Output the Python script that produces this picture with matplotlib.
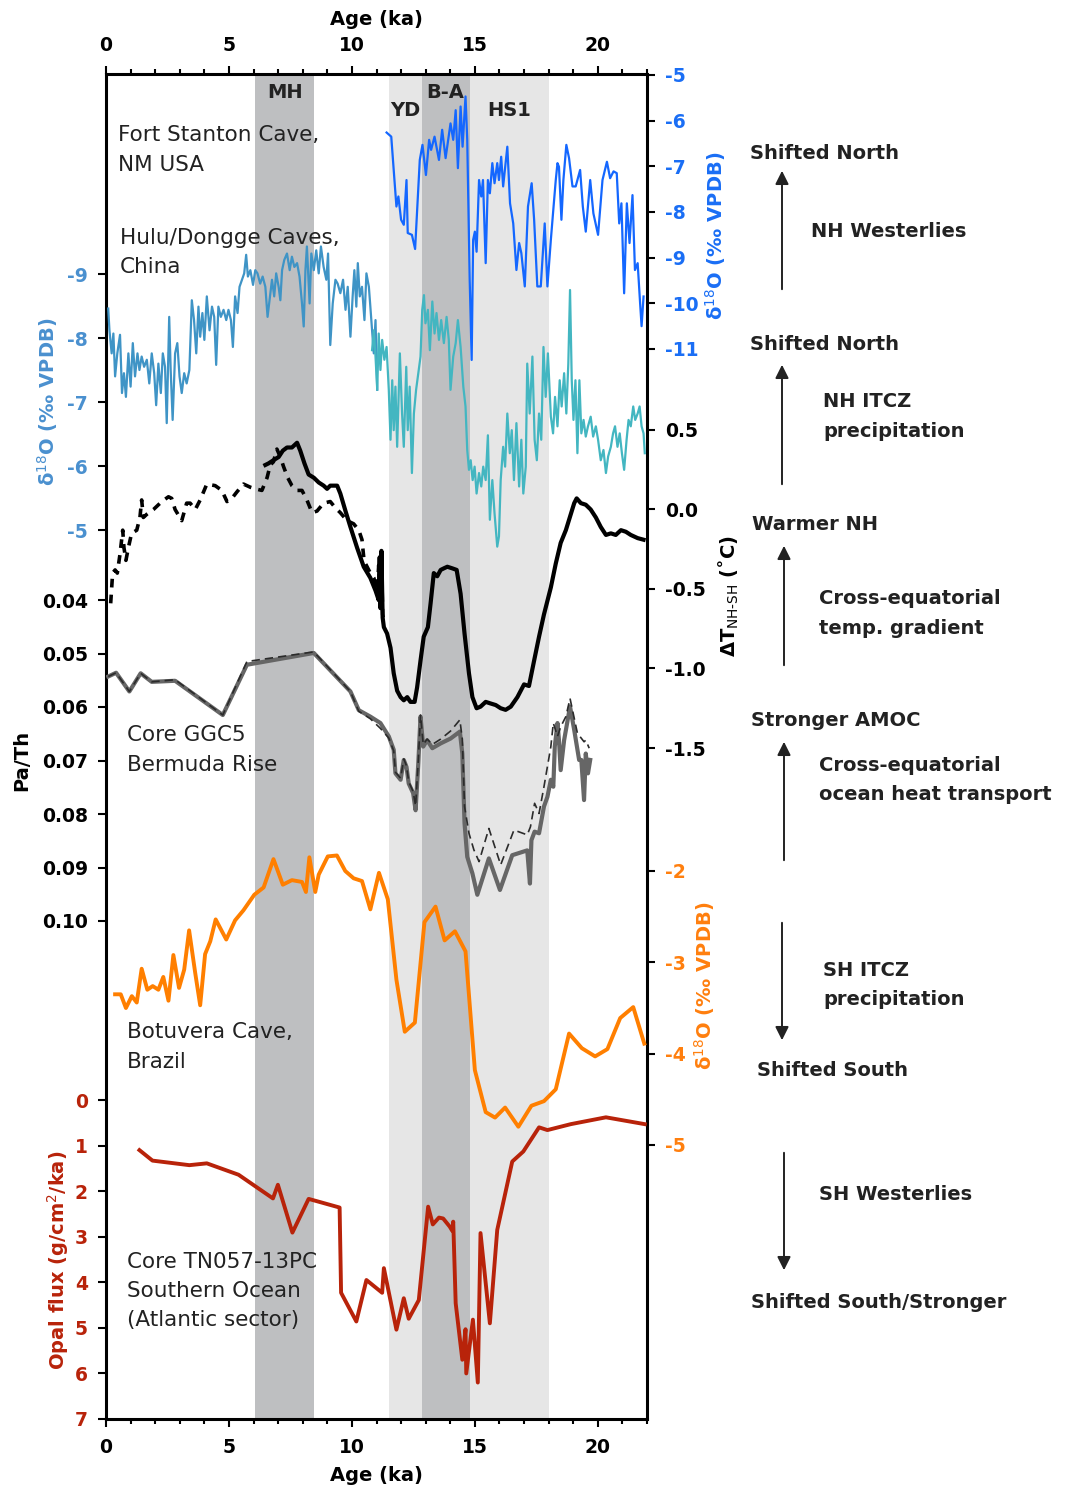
import matplotlib.pyplot as plt
from matplotlib.patches import FancyArrowPatch

# ---- data -------------------------------------------------------------
# Fort Stanton Cave (NM, USA) speleothem d18O
fort_age = [11.41, 11.6, 11.73, 11.81, 11.89, 12.0, 12.11, 12.22, 12.27, 12.44,
            12.57, 12.76, 12.87, 13.01, 13.14, 13.22, 13.36, 13.54, 13.67, 13.81,
            14.01, 14.12, 14.22, 14.31, 14.42, 14.50, 14.62, 14.69, 14.79, 14.87,
            14.93, 15.0, 15.07, 15.17, 15.26, 15.33, 15.44, 15.53, 15.61, 15.71,
            15.80, 15.91, 15.98, 16.07, 16.15, 16.32, 16.43, 16.56, 16.69, 16.80,
            16.89, 17.03, 17.16, 17.31, 17.41, 17.54, 17.68, 17.84, 17.95, 18.09,
            18.19, 18.29, 18.36, 18.42, 18.52, 18.60, 18.72, 18.83, 18.97, 19.10,
            19.28, 19.39, 19.51, 19.69, 19.82, 20.01, 20.19, 20.37, 20.50, 20.64,
            20.77, 20.87, 20.96, 21.07, 21.18, 21.29, 21.41, 21.51, 21.62, 21.72,
            21.78, 21.86]
fort_d18o = [-6.26, -6.35, -7.30, -7.88, -7.66, -8.17, -8.28, -7.30, -8.46, -8.50,
             -8.81, -6.86, -6.53, -7.19, -6.42, -6.64, -6.35, -6.86, -6.20, -6.82,
             -6.06, -6.42, -5.77, -7.04, -5.69, -6.57, -5.47, -6.42, -9.49, -11.24,
             -8.61, -8.43, -8.87, -7.30, -7.66, -7.30, -9.12, -7.30, -7.59, -6.93,
             -7.37, -6.93, -7.30, -6.79, -7.44, -6.57, -7.81, -8.25, -9.27, -8.68,
             -8.90, -9.63, -7.88, -7.37, -8.17, -9.63, -9.63, -8.25, -9.63, -8.61,
             -7.95, -7.30, -6.93, -7.01, -8.17, -7.30, -6.53, -6.82, -7.44, -7.44,
             -7.08, -7.88, -8.43, -7.30, -8.03, -8.50, -7.30, -6.90, -7.26, -7.11,
             -7.15, -8.25, -7.81, -9.78, -7.81, -8.68, -7.63, -9.27, -9.12, -10.0,
             -10.5, -9.85]

# Dongge Cave d18O (Holocene)
dongge_age = [0.09, 0.14, 0.23, 0.30, 0.37, 0.46, 0.57, 0.65, 0.73, 0.81,
              0.91, 1.0, 1.09, 1.18, 1.28, 1.36, 1.45, 1.55, 1.66, 1.76,
              1.86, 1.96, 2.04, 2.13, 2.23, 2.31, 2.40, 2.47, 2.57, 2.63,
              2.71, 2.81, 2.90, 2.99, 3.08, 3.18, 3.28, 3.39, 3.49, 3.58,
              3.67, 3.76, 3.83, 3.92, 4.00, 4.10, 4.21, 4.31, 4.40, 4.48,
              4.57, 4.67, 4.78, 4.89, 4.98, 5.08, 5.16, 5.25, 5.35, 5.43,
              5.53, 5.62, 5.70, 5.77, 5.87, 5.98, 6.07, 6.16, 6.27, 6.37,
              6.48, 6.57, 6.65, 6.75, 6.84, 6.92, 7.02, 7.09, 7.16, 7.25,
              7.36, 7.47, 7.56, 7.66, 7.77, 7.87, 7.97, 8.04, 8.11, 8.17,
              8.28, 8.35, 8.45, 8.55, 8.65, 8.74, 8.85, 8.96, 9.03, 9.12,
              9.22, 9.33, 9.42, 9.53, 9.64, 9.74, 9.83, 9.94, 10.03, 10.10,
              10.18, 10.24, 10.32, 10.41, 10.51, 10.59, 10.69, 10.75, 10.82, 10.89,
              10.96, 11.03]
dongge_d18o = [-8.46, -8.12, -7.76, -8.07, -7.40, -7.76, -8.05, -7.14, -7.45, -7.08,
               -7.76, -7.24, -7.92, -7.40, -7.76, -7.50, -7.71, -7.55, -7.66, -7.29,
               -7.76, -7.45, -6.95, -7.60, -7.14, -7.76, -7.55, -6.67, -8.33, -7.50,
               -6.72, -7.76, -7.92, -7.40, -7.14, -7.45, -7.29, -7.50, -8.59, -8.28,
               -7.76, -8.49, -8.02, -8.39, -7.97, -8.65, -8.12, -8.49, -8.33, -7.58,
               -8.49, -8.33, -8.44, -8.28, -8.44, -8.28, -7.86, -8.65, -8.39, -8.80,
               -8.91, -9.01, -9.30, -8.96, -9.06, -8.83, -9.06, -9.01, -8.85, -8.96,
               -8.80, -8.33, -8.59, -8.91, -8.65, -9.01, -8.80, -8.59, -9.06, -9.22,
               -9.32, -9.06, -9.27, -9.11, -9.17, -8.96, -8.54, -8.18, -9.06, -9.43,
               -8.54, -9.32, -9.06, -9.37, -9.01, -9.43, -9.11, -8.91, -9.32, -7.89,
               -8.54, -8.91, -8.85, -8.70, -8.91, -8.44, -8.80, -8.02, -8.65, -9.06,
               -8.49, -9.17, -8.65, -8.80, -8.28, -9.01, -8.80, -8.49, -8.12, -7.76,
               -8.28, -7.19]

# Hulu Cave d18O (deglacial)
hulu_age = [10.82, 10.89, 10.96, 11.03, 11.09, 11.16, 11.23, 11.32, 11.41, 11.50,
            11.57, 11.64, 11.70, 11.77, 11.84, 11.95, 12.04, 12.11, 12.21, 12.27,
            12.35, 12.44, 12.52, 12.61, 12.70, 12.79, 12.86, 12.93, 12.99, 13.09,
            13.17, 13.27, 13.36, 13.44, 13.54, 13.63, 13.74, 13.85, 13.94, 14.01,
            14.12, 14.22, 14.31, 14.42, 14.53, 14.62, 14.69, 14.76, 14.83, 14.91,
            14.99, 15.07, 15.17, 15.26, 15.34, 15.44, 15.53, 15.61, 15.71, 15.80,
            15.91, 15.98, 16.05, 16.15, 16.23, 16.32, 16.42, 16.50, 16.59, 16.69,
            16.80, 16.89, 16.97, 17.07, 17.13, 17.23, 17.34, 17.43, 17.52, 17.61,
            17.70, 17.79, 17.88, 17.97, 18.09, 18.18, 18.26, 18.36, 18.45, 18.53,
            18.63, 18.72, 18.80, 18.87, 18.94, 19.01, 19.09, 19.17, 19.25, 19.33,
            19.42, 19.51, 19.60, 19.71, 19.81, 19.92, 20.01, 20.12, 20.23, 20.33,
            20.42, 20.53, 20.62, 20.70, 20.80, 20.89, 20.98, 21.07, 21.17, 21.25,
            21.34, 21.44, 21.52, 21.62, 21.70, 21.78, 21.86, 21.91]
hulu_d18o = [-7.81, -8.12, -7.71, -7.19, -8.07, -7.50, -7.97, -7.66, -7.86, -7.19,
             -6.41, -7.34, -6.56, -7.24, -6.30, -7.76, -6.82, -6.30, -7.55, -6.56,
             -7.24, -5.89, -6.82, -7.19, -7.45, -7.71, -8.44, -8.67, -8.23, -8.44,
             -7.81, -8.57, -8.07, -8.39, -7.97, -8.28, -7.92, -8.33, -7.97, -7.19,
             -7.71, -7.92, -8.28, -7.86, -7.24, -6.93, -6.25, -5.94, -6.09, -5.78,
             -5.99, -5.57, -5.89, -5.68, -5.99, -5.78, -6.48, -5.16, -5.78, -5.26,
             -4.74, -4.90, -5.78, -6.30, -5.99, -6.82, -6.20, -6.56, -5.78, -6.67,
             -5.68, -6.41, -5.57, -5.99, -7.60, -6.82, -7.71, -6.41, -6.09, -6.82,
             -6.41, -7.86, -7.08, -7.76, -6.77, -6.51, -7.08, -6.62, -7.34, -6.93,
             -7.45, -6.82, -7.60, -8.75, -7.34, -6.72, -7.34, -6.20, -7.34, -6.51,
             -6.72, -6.46, -6.62, -6.77, -6.46, -6.62, -6.41, -6.09, -6.25, -5.89,
             -6.15, -6.30, -6.51, -6.62, -6.30, -6.51, -6.20, -5.94, -6.41, -6.72,
             -6.62, -6.93, -6.72, -6.82, -6.93, -6.62, -6.51, -6.20]

# interhemispheric temperature contrast (degC)
dt_age = [6.48, 6.61, 6.81, 7.02, 7.19, 7.36, 7.56, 7.77, 7.90, 8.07,
          8.24, 8.45, 8.65, 8.85, 8.99, 9.12, 9.40, 9.53, 9.74, 9.94,
          10.21, 10.48, 10.75, 10.96, 11.09, 11.13, 11.16, 11.20, 11.25, 11.30,
          11.43, 11.57, 11.70, 11.84, 11.98, 12.11, 12.25, 12.38, 12.55, 12.65,
          12.79, 12.92, 13.09, 13.20, 13.33, 13.47, 13.61, 13.74, 13.88, 14.08,
          14.26, 14.42, 14.58, 14.76, 14.90, 15.07, 15.23, 15.44, 15.64, 15.85,
          16.05, 16.25, 16.46, 16.73, 17.0, 17.20, 17.41, 17.61, 17.81, 18.09,
          18.29, 18.49, 18.70, 18.90, 19.04, 19.14, 19.31, 19.51, 19.71, 19.92,
          20.12, 20.33, 20.53, 20.73, 20.94, 21.14, 21.34, 21.62, 21.86]
dt_val = [0.28, 0.29, 0.31, 0.33, 0.37, 0.39, 0.39, 0.42, 0.37, 0.29,
          0.22, 0.20, 0.17, 0.15, 0.13, 0.15, 0.15, 0.10, -0.01, -0.11,
          -0.24, -0.36, -0.43, -0.51, -0.57, -0.30, -0.62, -0.26, -0.68, -0.74,
          -0.78, -0.87, -1.03, -1.14, -1.18, -1.20, -1.18, -1.21, -1.21, -1.12,
          -0.95, -0.80, -0.74, -0.59, -0.40, -0.42, -0.38, -0.37, -0.36, -0.37,
          -0.38, -0.53, -0.78, -1.03, -1.18, -1.25, -1.24, -1.21, -1.22, -1.23,
          -1.25, -1.26, -1.24, -1.18, -1.10, -1.11, -0.95, -0.80, -0.66, -0.49,
          -0.34, -0.21, -0.13, -0.03, 0.04, 0.07, 0.04, 0.03, 0.00, -0.05,
          -0.11, -0.16, -0.15, -0.16, -0.13, -0.14, -0.16, -0.18, -0.19]
dt_holo_age = [0.19, 0.27, 0.37, 0.46, 0.57, 0.68, 0.73, 0.81, 0.91, 1.04,
               1.25, 1.38, 1.45, 1.52, 1.66, 1.93, 2.27, 2.54, 2.67, 2.81,
               3.08, 3.28, 3.42, 3.63, 3.83, 4.10, 4.44, 4.71, 4.92, 5.12,
               5.32, 5.59, 5.87, 6.07, 6.34, 6.55, 6.68, 6.81, 6.95, 7.09,
               7.22, 7.39, 7.56, 7.77, 7.97, 8.17, 8.38, 8.58, 8.85, 9.12,
               9.33, 9.53, 9.80, 10.07, 10.28, 10.41, 10.48, 10.55, 10.75, 10.89,
               11.03, 11.09, 11.16, 11.20, 11.25, 11.30]
dt_holo_val = [-0.59, -0.40, -0.38, -0.40, -0.28, -0.13, -0.24, -0.32, -0.24, -0.15,
               -0.13, -0.05, 0.06, -0.05, -0.03, 0.00, 0.05, 0.08, 0.07, 0.00,
               -0.07, 0.04, 0.04, 0.00, 0.06, 0.16, 0.15, 0.12, 0.05, 0.07,
               0.11, 0.16, 0.14, 0.13, 0.12, 0.20, 0.28, 0.30, 0.38, 0.33,
               0.27, 0.20, 0.15, 0.12, 0.12, 0.06, -0.02, -0.01, 0.04, 0.05,
               0.01, -0.02, -0.07, -0.09, -0.13, -0.19, -0.30, -0.34, -0.40, -0.43,
               -0.51, -0.35, -0.62, -0.28, -0.66, -0.70]

# GGC5 Pa/Th, two age models
pth_age = [0.09, 0.41, 0.95, 1.41, 1.86, 2.81, 4.75, 5.73, 8.45, 9.94,
           10.28, 10.75, 11.16, 11.50, 11.70, 11.77, 11.98, 12.11, 12.22, 12.31,
           12.49, 12.59, 12.70, 12.79, 12.90, 13.06, 13.27, 13.61, 14.01, 14.39,
           14.49, 14.58, 14.69, 14.90, 15.10, 15.57, 16.02, 16.52, 17.13, 17.24,
           17.30, 17.43, 17.61, 17.81, 17.95, 18.09, 18.19, 18.25, 18.36, 18.42,
           18.49, 18.63, 18.87, 19.04, 19.24, 19.33, 19.44, 19.51, 19.60, 19.69]
pth_val = [0.0543, 0.0536, 0.0571, 0.0537, 0.0553, 0.0551, 0.0615, 0.0521, 0.0499, 0.0571,
           0.0606, 0.0618, 0.0630, 0.0655, 0.0680, 0.0724, 0.0736, 0.0699, 0.0712, 0.0743,
           0.0761, 0.0793, 0.0705, 0.0618, 0.0674, 0.0662, 0.0677, 0.0668, 0.0659, 0.0646,
           0.0687, 0.0817, 0.0880, 0.0911, 0.0951, 0.0883, 0.0942, 0.0877, 0.0868, 0.0930,
           0.0849, 0.0833, 0.0836, 0.0786, 0.0768, 0.0736, 0.0749, 0.0674, 0.0630, 0.0662,
           0.0718, 0.0662, 0.0599, 0.0643, 0.0699, 0.0699, 0.0774, 0.0687, 0.0724, 0.0699]
pth_alt_age = [0.09, 0.41, 0.95, 1.41, 1.86, 2.81, 4.75, 5.73, 8.45, 9.94,
               10.28, 10.75, 11.16, 11.50, 11.70, 11.77, 11.98, 12.11, 12.22, 12.31,
               12.49, 12.59, 12.70, 12.79, 12.90, 13.06, 13.27, 13.61, 14.01, 14.39,
               14.49, 14.58, 14.76, 14.96, 15.17, 15.57, 16.05, 16.59, 17.13, 17.26,
               17.43, 17.61, 17.81, 18.09, 18.19, 18.36, 18.49, 18.70, 18.87, 19.17,
               19.44, 19.51, 19.65]
pth_alt_val = [0.0543, 0.0536, 0.0571, 0.0537, 0.0553, 0.0549, 0.0615, 0.0515, 0.0497, 0.0571,
               0.0608, 0.0622, 0.0640, 0.0658, 0.0682, 0.0722, 0.0733, 0.0697, 0.0710, 0.0740,
               0.0758, 0.0785, 0.0700, 0.0615, 0.0670, 0.0660, 0.0670, 0.0660, 0.0645, 0.0624,
               0.0660, 0.0786, 0.0836, 0.0867, 0.0889, 0.0827, 0.0895, 0.0830, 0.0839, 0.0824,
               0.0780, 0.0799, 0.0749, 0.0674, 0.0630, 0.0655, 0.0637, 0.0618, 0.0584, 0.0649,
               0.0665, 0.0662, 0.0677]

# Botuvera Cave d18O
botu_age = [0.37, 0.60, 0.81, 1.05, 1.25, 1.45, 1.68, 1.90, 2.13, 2.33,
            2.54, 2.74, 2.97, 3.18, 3.38, 3.63, 3.83, 4.03, 4.24, 4.46,
            4.89, 5.25, 5.59, 6.03, 6.41, 6.81, 7.19, 7.56, 7.97, 8.13,
            8.27, 8.51, 8.65, 9.02, 9.39, 9.73, 10.07, 10.41, 10.75, 11.10,
            11.46, 11.81, 12.15, 12.56, 12.95, 13.40, 13.77, 14.19, 14.62, 15.0,
            15.44, 15.82, 16.23, 16.77, 17.30, 17.81, 18.29, 18.83, 19.35, 19.89,
            20.39, 20.91, 21.44, 21.89]
botu_d18o = [-3.35, -3.35, -3.50, -3.37, -3.44, -3.07, -3.30, -3.26, -3.30, -3.16,
             -3.42, -2.92, -3.28, -3.08, -2.65, -3.12, -3.47, -2.91, -2.77, -2.53,
             -2.75, -2.54, -2.43, -2.26, -2.18, -1.87, -2.15, -2.10, -2.12, -2.23,
             -1.85, -2.23, -2.04, -1.84, -1.83, -2.00, -2.08, -2.11, -2.42, -2.02,
             -2.31, -3.19, -3.76, -3.66, -2.56, -2.39, -2.76, -2.66, -2.88, -4.18,
             -4.64, -4.70, -4.59, -4.80, -4.57, -4.52, -4.39, -3.78, -3.94, -4.03,
             -3.95, -3.61, -3.49, -3.89]

# TN057-13PC opal flux (g/cm2/ka)
opal_age = [1.36, 1.89, 3.39, 4.10, 5.39, 6.79, 6.99, 7.58, 8.24, 9.50,
            9.56, 10.18, 10.59, 11.23, 11.30, 11.81, 12.11, 12.31, 12.72, 13.10,
            13.29, 13.54, 13.71, 13.98, 14.08, 14.12, 14.22, 14.49, 14.62, 14.65,
            14.80, 14.92, 15.12, 15.23, 15.61, 15.91, 16.52, 16.97, 17.61, 17.95,
            18.90, 20.33, 21.91]
opal_flux = [1.10, 1.33, 1.43, 1.39, 1.64, 2.16, 1.86, 2.91, 2.17, 2.36,
             4.23, 4.86, 3.95, 4.23, 3.69, 5.04, 4.35, 4.80, 4.39, 2.34,
             2.73, 2.58, 2.60, 2.78, 2.87, 2.67, 4.46, 5.70, 5.03, 6.00,
             5.34, 4.82, 6.20, 2.92, 4.90, 2.85, 1.35, 1.13, 0.60, 0.66,
             0.53, 0.38, 0.53]

# climate intervals: (start, end, label, dark?)
intervals = [(6.07, 8.47, 'MH', True), (11.49, 12.83, 'YD', False),
             (12.83, 14.79, 'B-A', True), (14.79, 18.0, 'HS1', False)]

# ---- figure -----------------------------------------------------------
W, H = 1066, 1489
fig = plt.figure(figsize=(W / 100, H / 100), dpi=100)
L, R, T, B = 106, 647, 74, 1419
rect = [L / W, 1 - B / H, (R - L) / W, (B - T) / H]


def fx(x):
    return x / W


def fy(y):
    return 1 - y / H


main = fig.add_axes(rect)
main.set_xlim(0, 22)
main.set_ylim(0, 1)
main.set_yticks([])
for s in main.spines.values():
    s.set_linewidth(2.2)
main.set_xticks([0, 5, 10, 15, 20])
main.set_xticks(range(0, 23), minor=True)
main.tick_params(axis='x', which='both', top=True, bottom=True, labeltop=True,
                 direction='out', width=1.5, labelsize=13.5, pad=8)
main.tick_params(axis='x', which='major', length=6)
main.tick_params(axis='x', which='minor', length=3.5)
for lbl in main.get_xticklabels():
    lbl.set_fontweight('bold')

for start, end, name, dark in intervals:
    main.axvspan(start, end, color='#bebfc1' if dark else '#e6e6e6', lw=0, zorder=0)
    main.text((start + end) / 2, 0.986 if name in ('MH', 'B-A') else 0.973, name,
              ha='center', va='center', fontsize=14, fontweight='bold', color='#222222')


def layer(v_a, y_a, v_b, y_b, side, ticks, fmt, color):
    """Transparent axes over the frame whose value v maps onto pixel row y."""
    ax = fig.add_axes(rect)
    ax.patch.set_visible(False)
    for s in ax.spines.values():
        s.set_visible(False)
    k = (v_b - v_a) / (y_b - y_a)
    ax.set_ylim(v_a + k * (B - y_a), v_a + k * (T - y_a))
    ax.set_xlim(0, 22)
    ax.set_xticks([])
    ax.yaxis.set_ticks_position(side)
    ax.set_yticks(ticks)
    ax.set_yticklabels([fmt.format(t) for t in ticks], fontweight='bold')
    ax.tick_params(axis='y', direction='out', length=6, width=1.5, colors='black',
                   labelcolor=color, labelsize=13.5, pad=7)
    return ax


blue_l = '#4a90cf'
blue_r = '#1a6ef5'
orange = '#ff7f0e'
red = '#b8230a'

ax_fort = layer(-5, 75, -11, 349, 'right', [-5, -6, -7, -8, -9, -10, -11], '{:.0f}', blue_r)
ax_hulu = layer(-9, 274, -5, 530, 'left', [-9, -8, -7, -6, -5], '{:.0f}', blue_l)
ax_dt = layer(0.5, 430, -1.5, 748, 'right', [0.5, 0.0, -0.5, -1.0, -1.5], '{:.1f}', 'black')
ax_pth = layer(0.04, 600, 0.10, 921, 'left', [0.04, 0.05, 0.06, 0.07, 0.08, 0.09, 0.10], '{:.2f}', 'black')
ax_botu = layer(-2, 871, -5, 1145, 'right', [-2, -3, -4, -5], '{:.0f}', orange)
ax_opal = layer(0, 1100, 7, 1419, 'left', [0, 1, 2, 3, 4, 5, 6, 7], '{:.0f}', red)

ax_hulu.plot(dongge_age, dongge_d18o, color='#3f94c6', lw=1.6)
ax_hulu.plot(hulu_age, hulu_d18o, color='#43b6c1', lw=1.6)
ax_fort.plot(fort_age, fort_d18o, color='#1467ff', lw=1.6)
ax_dt.plot(dt_holo_age, dt_holo_val, color='black', lw=2.6, ls=(0, (2.4, 2.0)))
ax_dt.plot(dt_age, dt_val, color='black', lw=3)
ax_pth.plot(pth_age, pth_val, color='#666666', lw=3)
ax_pth.plot(pth_alt_age, pth_alt_val, color='#2b2b2b', lw=1.2, ls=(0, (5, 3)))
ax_botu.plot(botu_age, botu_d18o, color='#ff7f00', lw=2.8)
ax_opal.plot(opal_age, opal_flux, color=red, lw=2.8)

# axis titles
fig.text(fx(376), fy(25), 'Age (ka)', ha='center', va='baseline', fontsize=14, fontweight='bold')
fig.text(fx(376), fy(1481), 'Age (ka)', ha='center', va='baseline', fontsize=14, fontweight='bold')
d18o = 'δ$^{18}$O (‰ VPDB)'
fig.text(fx(48), fy(402), d18o, rotation=90, ha='center', va='center', fontsize=14,
         fontweight='bold', color=blue_l)
fig.text(fx(22), fy(760), 'Pa/Th', rotation=90, ha='center', va='center', fontsize=14,
         fontweight='bold')
fig.text(fx(58), fy(1260), 'Opal flux (g/cm$^2$/ka)', rotation=90, ha='center', va='center',
         fontsize=14, fontweight='bold', color=red)
fig.text(fx(716), fy(236), d18o, rotation=90, ha='center', va='center', fontsize=14,
         fontweight='bold', color=blue_r)
fig.text(fx(729), fy(596), r'ΔT$_\mathrm{NH\text{-}SH}$ (˚C)', rotation=90, ha='center',
         va='center', fontsize=14, fontweight='bold')
fig.text(fx(705), fy(986), d18o, rotation=90, ha='center', va='center', fontsize=14,
         fontweight='bold', color=orange)

# record names
names = [(118, 141, 'Fort Stanton Cave,'), (118, 171, 'NM USA'),
         (120, 244, 'Hulu/Dongge Caves,'), (120, 273, 'China'),
         (127, 741, 'Core GGC5'), (127, 771, 'Bermuda Rise'),
         (127, 1038, 'Botuvera Cave,'), (127, 1068, 'Brazil'),
         (127, 1268, 'Core TN057-13PC'), (127, 1297, 'Southern Ocean'),
         (127, 1326, '(Atlantic sector)')]
for x, y, s in names:
    fig.text(fx(x), fy(y), s, ha='left', va='baseline', fontsize=15.5, color='#222222')

# mechanism annotations on the right
notes = [(750, 159, 'Shifted North'), (811, 237, 'NH Westerlies'),
         (750, 350, 'Shifted North'), (823, 407, 'NH ITCZ'), (823, 437, 'precipitation'),
         (752, 530, 'Warmer NH'), (819, 604, 'Cross-equatorial'), (819, 634, 'temp. gradient'),
         (751, 726, 'Stronger AMOC'), (819, 771, 'Cross-equatorial'),
         (819, 800, 'ocean heat transport'), (823, 976, 'SH ITCZ'), (823, 1005, 'precipitation'),
         (757, 1076, 'Shifted South'), (819, 1200, 'SH Westerlies'),
         (751, 1308, 'Shifted South/Stronger')]
for x, y, s in notes:
    fig.text(fx(x), fy(y), s, ha='left', va='baseline', fontsize=14, fontweight='bold',
             color='#222222')

arrows = [(782, 292, 168), (782, 487, 362), (784, 668, 543), (784, 863, 739),
          (782, 920, 1043), (784, 1150, 1273)]
for x, y0, y1 in arrows:
    fig.add_artist(FancyArrowPatch((fx(x), fy(y0)), (fx(x), fy(y1)),
                                   transform=fig.transFigure, arrowstyle='-|>',
                                   mutation_scale=20, lw=1.4, color='#222222'))

fig.savefig('out.png', dpi=100)
